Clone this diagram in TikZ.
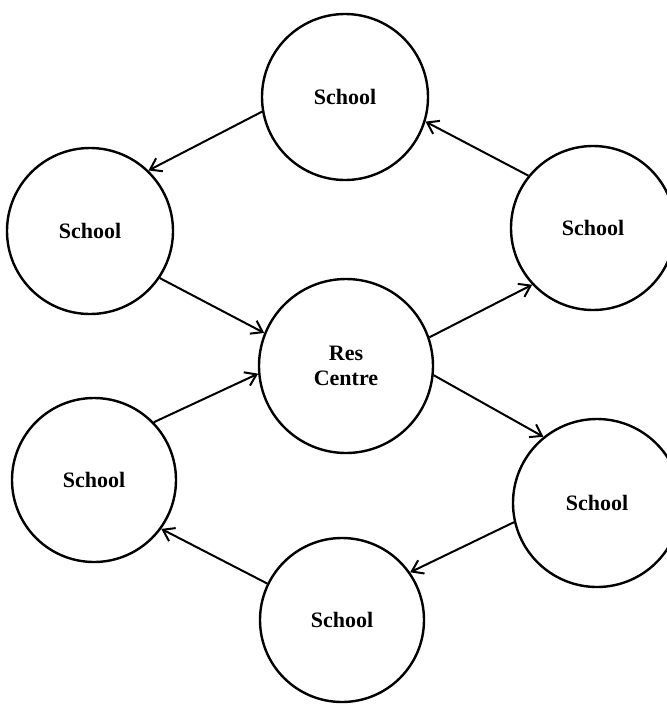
\documentclass[tikz,border=0pt]{standalone}
\usepackage{fontspec}
\setmainfont{Liberation Serif}
\usetikzlibrary{arrows.meta}
\begin{document}
\begin{tikzpicture}[x=0.75pt,y=-0.75pt,
  site/.style={circle,draw,line width=1.8pt,inner sep=0pt,
    font=\bfseries\fontsize{16.5}{18.75}\selectfont,align=center},
  link/.style={line width=1.5pt,-{Straight Barb[length=8pt,width=11pt,line width=1.5pt]}}]
\useasboundingbox (0,0) rectangle (667,704);
\begin{scope}
\clip (0,0) rectangle (667,704);
% schools round the resource centre
\node[site,minimum size=124.5pt] (top)   at (345,97)  {School};
\node[site,minimum size=124.5pt] (left)  at (90,231)  {School};
\node[site,minimum size=123pt]   (right) at (593,228) {School};
\node[site,minimum size=130.5pt] (res)   at (346,366) {Res\\Centre};
\node[site,minimum size=123pt]   (bl)    at (94,480)  {School};
\node[site,minimum size=126pt]   (br)    at (597,503) {School};
\node[site,minimum size=123pt]   (bot)   at (342,620) {School};
\end{scope}
% flow between the centres
\draw[link] (top.190)  -- (left.46);
\draw[link] (right.141) -- (top.343);
\draw[link] (left.-34) -- (res.158);
\draw[link] (bl.44)    -- (res.185);
\draw[link] (res.19)   -- (right.223);
\draw[link] (res.354)  -- (br.129);
\draw[link] (br.193)   -- (bot.35);
\draw[link] (bot.154)  -- (bl.324);
\end{tikzpicture}
\end{document}
